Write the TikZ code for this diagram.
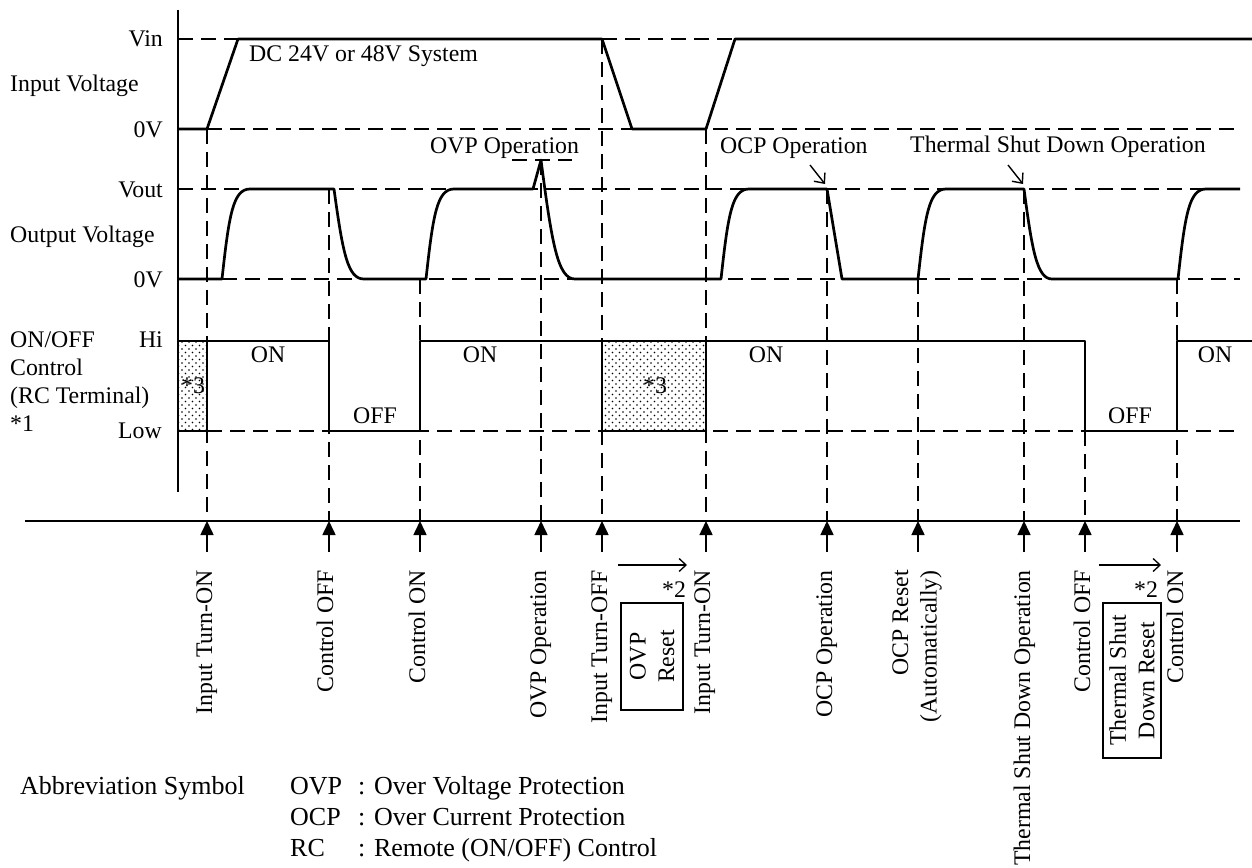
\documentclass[tikz,border=0pt]{standalone}
\usepackage{fontspec}
\setmainfont{Liberation Serif}
\usetikzlibrary{arrows.meta,patterns.meta}
\begin{document}
\begin{tikzpicture}[x=1pt,y=-1pt,
  wave/.style={line width=2.7pt, line join=round},
  guide/.style={line width=1.6pt, dash pattern=on 15pt off 8pt},
  axisline/.style={line width=1.6pt},
  lbl/.style={font=\fontsize{23.8}{28.5}\selectfont, inner sep=0pt},
  abbr/.style={font=\fontsize{26}{30}\selectfont, inner sep=0pt},
  rlbl/.style={lbl, rotate=90},
  evarrow/.style={line width=1.6pt, -{Triangle[width=13pt,length=14pt]}},
  openarrow/.style={line width=1.4pt, -{Straight Barb[length=8pt,width=14pt]}},
  smallarrow/.style={line width=1.3pt, -{Straight Barb[length=7pt,width=13pt]}},
  dotsA/.style={pattern={Dots[distance=7pt,radius=0.95pt]}},
  dotsB/.style={pattern={Dots[distance=7pt,radius=0.95pt,xshift=3.5pt,yshift=3.5pt]}},
  boxlbl/.style={rlbl, draw, line width=1.6pt, align=center}
]
\useasboundingbox (0,0) rectangle (1252,867);

% axes
\draw[axisline] (178,10) -- (178,492);
\draw[axisline] (25,521) -- (1240,521);

% level guides
\draw[guide] (178,39) -- (238,39);
\draw[guide] (602,39) -- (735,39);
\draw[guide] (207,129) -- (1240,129);
\draw[guide] (178,189) -- (1240,189);
\draw[guide] (222,279) -- (1240,279);
\draw[guide] (207,431) -- (1240,431);
\draw[guide] (512,160) -- (572,160);

% event guides
\draw[guide] (207,129) -- (207,521);
\draw[guide] (329,189) -- (329,521);
\draw[guide] (420,279) -- (420,521);
\draw[guide] (541,160) -- (541,521);
\draw[guide] (602,39) -- (602,521);
\draw[guide] (706,129) -- (706,521);
\draw[guide] (827,189) -- (827,521);
\draw[guide] (918,279) -- (918,521);
\draw[guide] (1024,189) -- (1024,521);
\draw[guide] (1085,431) -- (1085,521);
\draw[guide] (1177,279) -- (1177,521);

% input voltage
\draw[wave] (178,129) -- (207,129) -- (238,39) -- (602,39) -- (632,129) -- (706,129) -- (735,39) -- (1252,39);

% output voltage
\draw[wave] (178,279) -- (222,279) .. controls (229,215) and (233,189) .. (250,189)
  -- (334,189) .. controls (343,255) and (348,279) .. (364,279)
  -- (426,279) .. controls (433,215) and (437,189) .. (454,189)
  -- (533,189) -- (541,160) .. controls (552,245) and (558,279) .. (575,279)
  -- (721,279) .. controls (728,215) and (732,189) .. (749,189)
  -- (827,189) -- (842,279)
  -- (918,279) .. controls (925,215) and (929,189) .. (946,189)
  -- (1024,189) .. controls (1032,250) and (1037,279) .. (1052,279)
  -- (1178,279) .. controls (1185,215) and (1189,189) .. (1206,189)
  -- (1240,189);

% control signal
\fill[dotsA] (178,341) rectangle (207,431);
\fill[dotsB] (178,341) rectangle (207,431);
\fill[dotsA] (602,341) rectangle (706,431);
\fill[dotsB] (602,341) rectangle (706,431);
\draw[wave] (178,431) -- (207,431) -- (207,341);
\draw[wave] (178,341) -- (329,341) -- (329,431) -- (420,431) -- (420,341) -- (1085,341) -- (1085,431) -- (1177,431) -- (1177,341) -- (1252,341);
\draw[wave] (602,341) -- (602,431) -- (706,431) -- (706,341);

% left labels
\node[lbl, anchor=base east] (vin) at (163,47) {Vin};
\node[lbl, anchor=base west] (inv) at (10,92) {Input Voltage};
\node[lbl, anchor=base east] (zin) at (163,137) {0V};
\node[lbl, anchor=base east] (vout) at (163,197) {Vout};
\node[lbl, anchor=base west] (outv) at (10,242) {Output Voltage};
\node[lbl, anchor=base east] (zout) at (163,287) {0V};
\node[lbl, anchor=base west] (onoff) at (10,347) {ON/OFF};
\node[lbl, anchor=base east] (hi) at (163,347) {Hi};
\node[lbl, anchor=base west] (ctl) at (10,375) {Control};
\node[lbl, anchor=base west] (rct) at (10,403) {(RC Terminal)};
\node[lbl, anchor=base west] (n1) at (10,431) {*1};
\node[lbl, anchor=base east] (low) at (162,438) {Low};

% waveform annotations
\node[lbl, anchor=base west] (dc) at (249,61) {DC 24V or 48V System};
\node[lbl, anchor=base west] (ovpop) at (430,153) {OVP Operation};
\node[lbl, anchor=base west] (ocpop) at (720,153) {OCP Operation};
\node[lbl, anchor=base west] (tsdop) at (910,152) {Thermal Shut Down Operation};
\coordinate (ocpa) at (810,165); \coordinate (ocpb) at (825,184);
\draw[openarrow] (ocpa) -- (ocpb);
\coordinate (tsda) at (1008,165); \coordinate (tsdb) at (1023,184);
\draw[openarrow] (tsda) -- (tsdb);

\node[lbl, anchor=base] (on1) at (268,362) {ON};
\node[lbl, anchor=base] (off1) at (375,423) {OFF};
\node[lbl, anchor=base] (on2) at (480,362) {ON};
\node[lbl, anchor=base] (on3) at (766,362) {ON};
\node[lbl, anchor=base] (off2) at (1130,423) {OFF};
\node[lbl, anchor=base] (on4) at (1215,362) {ON};
\node[lbl, anchor=base] (s3a) at (193,393) {*3};
\node[lbl, anchor=base] (s3b) at (655,393) {*3};

% event arrows
\foreach \x [count=\i] in {207,329,420,541,602,706,827,918,1024,1085,1177} {
  \coordinate (es\i) at (\x,552);
  \coordinate (et\i) at (\x,521);
  \draw[evarrow] (es\i) -- (et\i);
}

% event labels
\node[rlbl, anchor=base east] (l1) at (212,570) {Input Turn-ON};
\node[rlbl, anchor=base east] (l2) at (333,570) {Control OFF};
\node[rlbl, anchor=base east] (l3) at (425,570) {Control ON};
\node[rlbl, anchor=base east] (l4) at (546,570) {OVP Operation};
\node[rlbl, anchor=base east] (l5) at (607,570) {Input Turn-OFF};
\node[rlbl, anchor=base east] (l6) at (710,570) {Input Turn-ON};
\node[rlbl, anchor=base east] (l7) at (832,570) {OCP Operation};
\node[rlbl, anchor=east, align=right] (l8) at (917,570) {OCP Reset\\(Automatically)};
\node[rlbl, anchor=base east] (l9) at (1030,570) {Thermal Shut Down Operation};
\node[rlbl, anchor=base east] (l10) at (1090,570) {Control OFF};
\node[rlbl, anchor=base east] (l11) at (1183,570) {Control ON};

% reset boxes
\node[boxlbl, minimum width=107pt, minimum height=62pt] (ovpreset) at (652,656.5) {OVP\\Reset};
\node[boxlbl, minimum width=155pt, minimum height=58pt] (tsdreset) at (1132,680.5) {Thermal Shut\\Down Reset};
\coordinate (ra1) at (618,565); \coordinate (rb1) at (687,565);
\draw[smallarrow] (ra1) -- (rb1);
\coordinate (ra2) at (1099,565); \coordinate (rb2) at (1161,565);
\draw[smallarrow] (ra2) -- (rb2);
\node[lbl, anchor=base] (s2a) at (674,597) {*2};
\node[lbl, anchor=base] (s2b) at (1146,597) {*2};

% abbreviations
\node[abbr, anchor=base west] (abh) at (20,794) {Abbreviation Symbol};
\node[abbr, anchor=base west] (ab1) at (290,794) {OVP};
\node[abbr, anchor=base west] (ab1t) at (358,794) {: Over Voltage Protection};
\node[abbr, anchor=base west] (ab2) at (290,825) {OCP};
\node[abbr, anchor=base west] (ab2t) at (358,825) {: Over Current Protection};
\node[abbr, anchor=base west] (ab3) at (290,856) {RC};
\node[abbr, anchor=base west] (ab3t) at (358,856) {: Remote (ON/OFF) Control};
\end{tikzpicture}
\end{document}
